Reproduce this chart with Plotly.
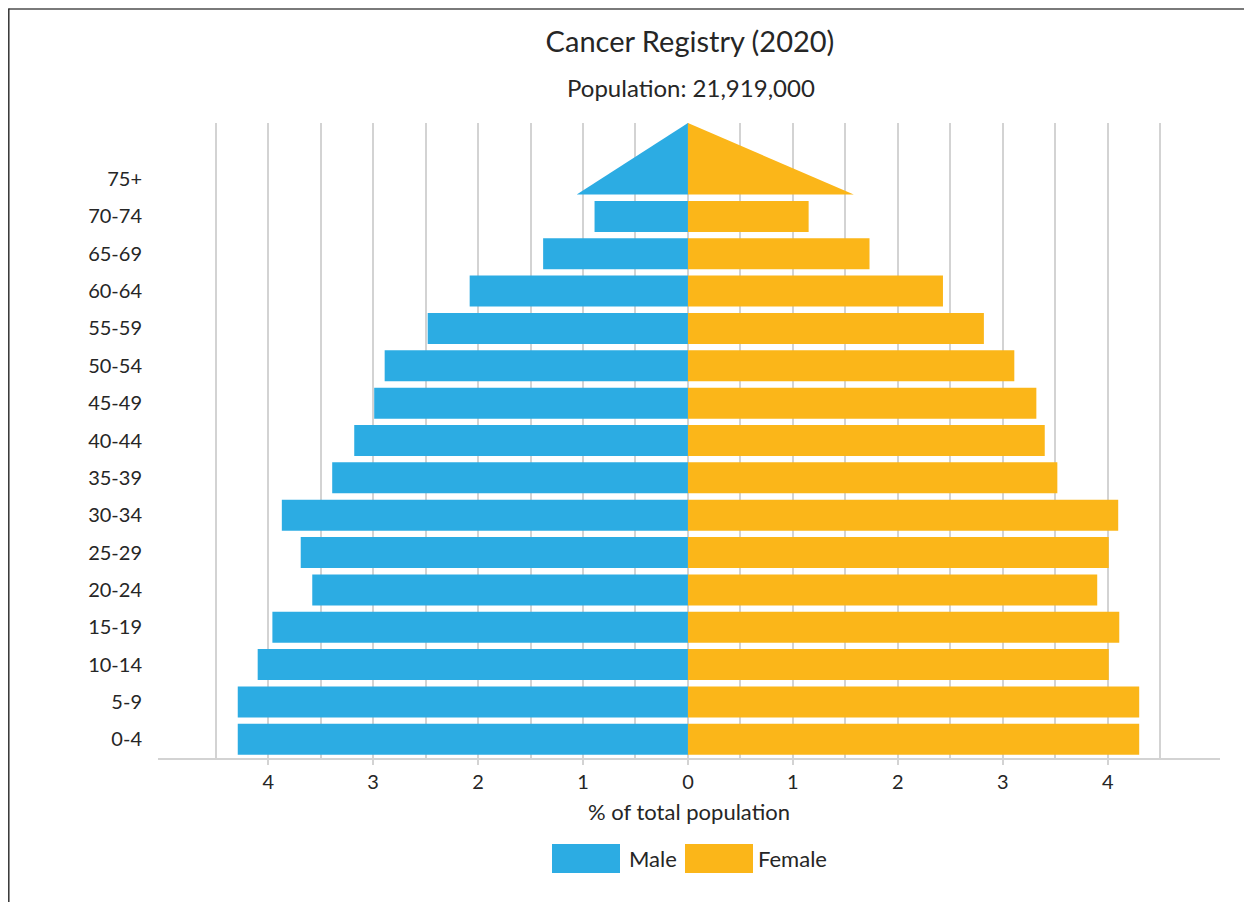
import plotly.graph_objects as go

age_groups = ["0-4", "5-9", "10-14", "15-19", "20-24", "25-29", "30-34", "35-39",
              "40-44", "45-49", "50-54", "55-59", "60-64", "65-69", "70-74", "75+"]
male = [4.29, 4.29, 4.10, 3.96, 3.58, 3.69, 3.87, 3.39, 3.18, 2.99, 2.89, 2.48, 2.08, 1.38, 0.89, 1.06]
female = [4.30, 4.30, 4.01, 4.11, 3.90, 4.01, 4.10, 3.52, 3.40, 3.32, 3.11, 2.82, 2.43, 1.73, 1.15, 1.58]
tick_vals = [-4, -3, -2, -1, 0, 1, 2, 3, 4]
tick_text = ["4", "3", "2", "1", "0", "1", "2", "3", "4"]
grid_vals = [-4.5, -3.5, -2.5, -1.5, -0.5, 0.5, 1.5, 2.5, 3.5, 4.5]

BLUE = "#2CACE3"
ORANGE = "#FBB619"
TEXT = "#262626"
GRID = "#D3D3D3"
FONT = "Lato"

OFF = 8  # page body margin
W, H = 1252 - OFF, 902 - OFF
ML, MR, MT, MB = 158 - OFF, 32, 123 - OFF, 144
bar_w = 0.83
y_range = [-0.5, 16.5]

n = len(age_groups)
idx = list(range(n))
bar_idx = idx[:-1]

fig = go.Figure()
fig.add_trace(go.Bar(y=bar_idx, x=[-v for v in male[:-1]], orientation="h", width=bar_w,
                     marker=dict(color=BLUE, line=dict(width=0)), name="Male", showlegend=False))
fig.add_trace(go.Bar(y=bar_idx, x=female[:-1], orientation="h", width=bar_w,
                     marker=dict(color=ORANGE, line=dict(width=0)), name="Female", showlegend=False))

# 75+ drawn as triangles
top_i = idx[-1]
base_y = top_i - bar_w / 2
apex_y = y_range[1]
fig.add_trace(go.Scatter(x=[0, -male[-1], 0, 0], y=[base_y, base_y, apex_y, base_y],
                         mode="lines", fill="toself", fillcolor=BLUE, line=dict(width=0, color=BLUE),
                         showlegend=False, hoverinfo="skip"))
fig.add_trace(go.Scatter(x=[0, female[-1], 0, 0], y=[base_y, base_y, apex_y, base_y],
                         mode="lines", fill="toself", fillcolor=ORANGE, line=dict(width=0, color=ORANGE),
                         showlegend=False, hoverinfo="skip"))

pw = W - ML - MR
ph = H - MT - MB


def px(x):
    # x in screenshot pixels
    return (x - OFF - ML) / pw


def py(y):
    return (H - MB - (y - OFF)) / ph


shapes = [
    # legend swatches
    dict(type="rect", xref="paper", yref="paper", x0=px(552), x1=px(620), y0=py(873), y1=py(844),
         fillcolor=BLUE, line=dict(width=0)),
    dict(type="rect", xref="paper", yref="paper", x0=px(685), x1=px(753), y0=py(873), y1=py(844),
         fillcolor=ORANGE, line=dict(width=0)),
    # frame lines
    dict(type="line", xref="paper", yref="paper", x0=px(8.5), x1=px(1260), y0=py(9), y1=py(9),
         line=dict(color="#7a7a7a", width=2)),
    dict(type="line", xref="paper", yref="paper", x0=px(8.8), x1=px(8.8), y0=py(8.5), y1=py(910),
         line=dict(color="#333333", width=1.5)),
]

annotations = [
    dict(text="Male", xref="paper", yref="paper", x=px(627), y=py(858), xanchor="left", yanchor="middle",
         showarrow=False, font=dict(family=FONT, size=22, color=TEXT)),
    dict(text="Female", xref="paper", yref="paper", x=px(756), y=py(858), xanchor="left", yanchor="middle",
         showarrow=False, font=dict(family=FONT, size=22, color=TEXT)),
    dict(text="Population: 21,919,000", xref="paper", yref="paper", x=px(691), y=py(87),
         xanchor="center", yanchor="middle", showarrow=False, font=dict(family=FONT, size=24, color=TEXT)),
]

fig.update_layout(
    width=W, height=H,
    margin=dict(l=ML, r=MR, t=MT, b=MB, pad=0),
    paper_bgcolor="white", plot_bgcolor="white",
    barmode="overlay",
    title=dict(text="Cancer Registry (2020)", x=px(690), xref="paper", xanchor="center",
               y=1 - (42 - OFF) / H, yanchor="middle", font=dict(family=FONT, size=29, color=TEXT)),
    font=dict(family=FONT, color=TEXT),
    shapes=shapes,
    annotations=annotations,
    showlegend=False,
)

fig.update_xaxes(
    range=[-5.05, 5.07],
    tickvals=tick_vals, ticktext=tick_text,
    ticks="outside", ticklen=5, tickcolor=GRID, tickwidth=1.5,
    showgrid=True, gridcolor=GRID, gridwidth=1.5,
    minor=dict(tickvals=grid_vals, showgrid=True, gridcolor=GRID, gridwidth=1.5, ticks=""),
    zeroline=False,
    showline=True, linecolor=GRID, linewidth=1.5,
    tickfont=dict(family=FONT, size=20, color=TEXT),
    title=dict(text="% of total population", font=dict(family=FONT, size=22, color=TEXT), standoff=13),
)
fig.update_yaxes(
    range=y_range,
    tickvals=idx, ticktext=age_groups,
    showgrid=False, zeroline=False, showline=False, ticks="",
    ticklabelstandoff=15,
    tickfont=dict(family=FONT, size=20, color=TEXT),
)

fig.write_html("out.html")
